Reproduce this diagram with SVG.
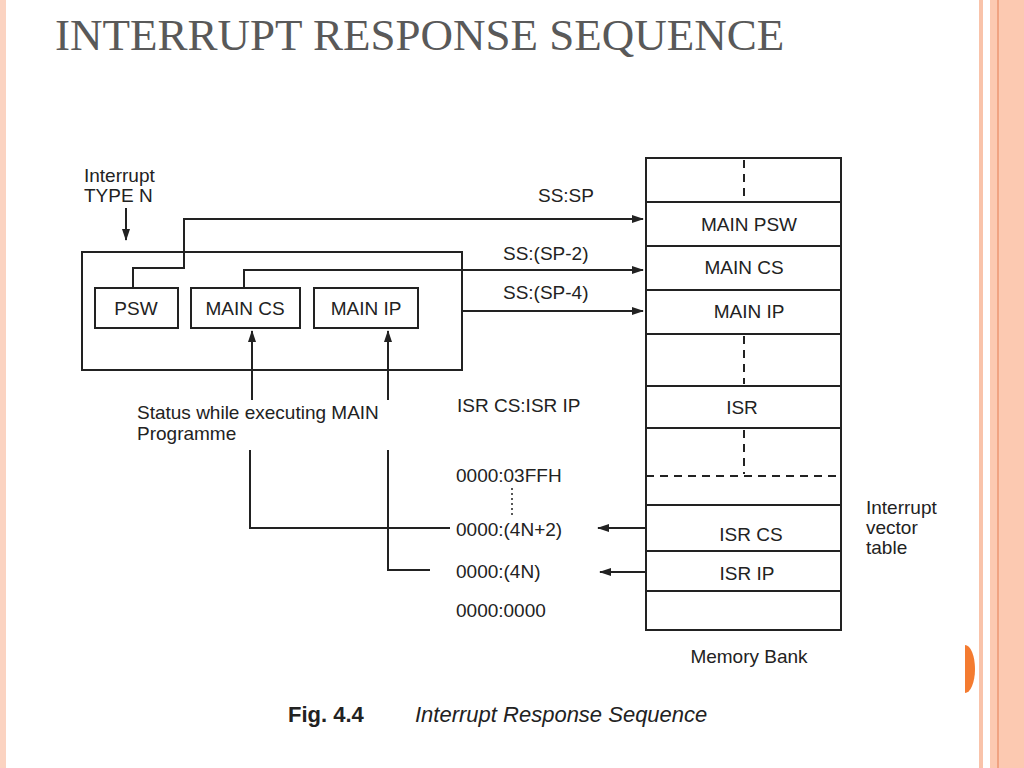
<svg xmlns="http://www.w3.org/2000/svg" width="1024" height="768" viewBox="0 0 1024 768">
<style>
.t{font-family:"Liberation Sans",Arial,sans-serif;font-size:19px;fill:#222}
.s{stroke:#222;stroke-width:2;fill:none}
.b{stroke:#222;stroke-width:2;fill:#fff}
.d{stroke:#222;stroke-width:2;stroke-dasharray:8,6;fill:none}
</style>
<defs><marker id="a" markerWidth="12" markerHeight="10" refX="11" refY="5" orient="auto" markerUnits="userSpaceOnUse"><path d="M0,1 L12,5 L0,9 z" fill="#222"/></marker></defs>
<rect width="1024" height="768" fill="#fff"/>
<rect x="0" y="0" width="6" height="768" fill="#fbd3c1"/>
<rect x="979" y="0" width="4" height="768" fill="#f9c3aa"/>
<rect x="990" y="0" width="34" height="768" fill="#fcc9b1"/>
<rect x="997" y="0" width="2" height="768" fill="#f0a382"/>
<path d="M965,645 A10,24 0 0 1 965,693 Z" fill="#f47b30"/>
<text x="55" y="50" font-family="Liberation Serif,serif" font-size="45" fill="#595959">INTERRUPT RESPONSE SEQUENCE</text>
<g id="memory">
<rect class="b" x="646" y="158" width="195" height="472"/>
<path class="s" d="M646,202H841M646,246H841M646,290H841M646,334H841M646,386H841M646,428H841M646,505H841M646,551H841M646,591H841"/>
<path class="d" d="M744,160V200M744,336V384M744,430V474M646,476H841"/>
<text class="t" x="749" y="231" text-anchor="middle">MAIN PSW</text>
<text class="t" x="744" y="274" text-anchor="middle">MAIN CS</text>
<text class="t" x="749" y="318" text-anchor="middle">MAIN IP</text>
<text class="t" x="742" y="414" text-anchor="middle">ISR</text>
<text class="t" x="751" y="541" text-anchor="middle">ISR CS</text>
<text class="t" x="747" y="580" text-anchor="middle">ISR IP</text>
<text class="t" x="749" y="663" text-anchor="middle">Memory Bank</text>
</g>
<g id="cpu">
<rect class="b" x="82" y="252" width="380" height="118"/>
<rect class="b" x="95" y="288" width="83" height="40"/><text class="t" x="136" y="315" text-anchor="middle">PSW</text>
<rect class="b" x="191" y="288" width="109" height="40"/><text class="t" x="245" y="315" text-anchor="middle">MAIN CS</text>
<rect class="b" x="314" y="288" width="104" height="40"/><text class="t" x="366" y="315" text-anchor="middle">MAIN IP</text>
</g>
<g id="labels">
<text class="t" x="84" y="182">Interrupt</text><text class="t" x="84" y="202">TYPE N</text>
<text class="t" x="538" y="202">SS:SP</text>
<text class="t" x="503" y="260">SS:(SP-2)</text>
<text class="t" x="503" y="299">SS:(SP-4)</text>
<text class="t" x="137" y="419">Status while executing MAIN</text>
<text class="t" x="137" y="440">Programme</text>
<text class="t" x="457" y="412">ISR CS:ISR IP</text>
<text class="t" x="456" y="482">0000:03FFH</text>
<text class="t" x="456" y="536">0000:(4N+2)</text>
<text class="t" x="456" y="578">0000:(4N)</text>
<text class="t" x="456" y="617">0000:0000</text>
<text class="t" x="866" y="514" font-size="18">Interrupt</text>
<text class="t" x="866" y="534" font-size="18">vector</text>
<text class="t" x="866" y="554" font-size="18">table</text>
<text x="288" y="722" font-family="Liberation Sans,Arial,sans-serif" font-weight="bold" font-size="22" fill="#222">Fig. 4.4</text>
<text x="415" y="722" font-family="Liberation Sans,Arial,sans-serif" font-style="italic" font-size="22" fill="#222">Interrupt Response Sequence</text>
</g>
<g id="connectors">
<path class="s" d="M126,208V240" marker-end="url(#a)"/>
<path class="s" d="M133,288V268H184V219H643" marker-end="url(#a)"/>
<path class="s" d="M244,288V270H643" marker-end="url(#a)"/>
<path class="s" d="M462,311H643" marker-end="url(#a)"/>
<path class="s" d="M252,400V331" marker-end="url(#a)"/>
<path class="s" d="M388,400V331" marker-end="url(#a)"/>
<path class="s" d="M250,450V528H450"/>
<path class="s" d="M388,450V570H430"/>
<path class="s" d="M646,528H598" marker-end="url(#a)"/>
<path class="s" d="M646,572H600" marker-end="url(#a)"/>
<path stroke="#222" stroke-width="1.5" stroke-dasharray="2,3" d="M512,488V518"/>
</g>
</svg>
